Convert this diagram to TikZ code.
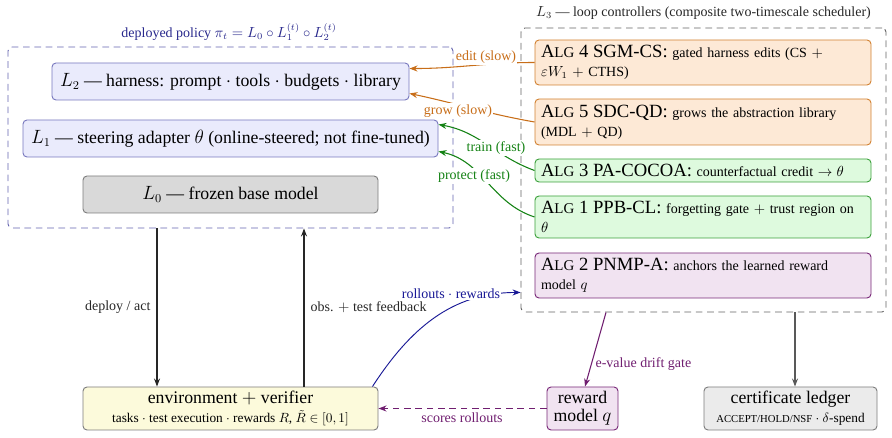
\documentclass[tikz,border=0pt]{standalone}
\usepackage{fontspec}
\setmainfont{Liberation Serif}
\usetikzlibrary{arrows.meta,calc}
\definecolor{lfill}{RGB}{234,235,252}
\definecolor{ldraw}{RGB}{120,120,190}
\definecolor{gfill}{RGB}{217,217,217}
\definecolor{gdraw}{RGB}{125,125,125}
\definecolor{ofill}{RGB}{253,233,214}
\definecolor{odraw}{RGB}{210,130,50}
\definecolor{orng}{RGB}{200,110,25}
\definecolor{grfill}{RGB}{222,250,222}
\definecolor{grdraw}{RGB}{60,160,60}
\definecolor{grn}{RGB}{20,130,20}
\definecolor{pfill}{RGB}{241,227,241}
\definecolor{pdraw}{RGB}{120,40,120}
\definecolor{prp}{RGB}{112,30,112}
\definecolor{nvy}{RGB}{25,25,150}
\definecolor{ttlc}{RGB}{40,40,140}
\definecolor{yfill}{RGB}{252,250,219}
\definecolor{lgfill}{RGB}{235,235,235}
\definecolor{dashblue}{RGB}{100,100,175}
\definecolor{dashgray}{RGB}{100,100,100}
\newcommand\myBig{\fontsize{13.3}{13.6}\selectfont}
\newcommand\myLbl{\fontsize{10.5}{12}\selectfont}
\newcommand\myDesc{\fontsize{10}{14.2}\selectfont}
\newcommand\myAlgT{\fontsize{14}{14.25}\selectfont}
\newcommand\myAlgD{\fontsize{10.5}{14.25}\selectfont}
\newcommand\myAlg{A{\fontsize{11.2}{14.25}\selectfont LG}}
\begin{document}
\begin{tikzpicture}[x=0.75pt,y=0.75pt,>={Stealth[length=6pt,width=4.5pt]},
  cont/.style={draw, dash pattern=on 5pt off 3.5pt, line width=0.7pt, rounded corners=3pt, inner sep=0pt},
  box/.style={draw, rounded corners=3pt, line width=0.7pt, inner sep=0pt},
  lay/.style={box, fill=lfill, draw=ldraw, font=\myBig, minimum height=27.75pt},
  alg/.style={box, minimum width=252pt, text width=243pt, inner xsep=4.5pt, align=left, font=\myAlgD},
  orangealg/.style={alg, fill=ofill, draw=odraw},
  greenalg/.style={alg, fill=grfill, draw=grdraw},
  purplealg/.style={alg, fill=pfill, draw=pdraw},
  bot/.style={box, minimum height=32.25pt, align=center, font=\myDesc},
  lbl/.style={font=\myLbl, inner sep=1pt},
  wlbl/.style={lbl, fill=white},
  arr/.style={->, line width=0.8pt}
]
\useasboundingbox (0,0) rectangle (892,438);
% containers
\node[cont, draw=dashblue, minimum width=333.75pt, minimum height=135.75pt] (deployed) at (230.5,300.5) {};
\node[cont, draw=dashgray, minimum width=273.75pt, minimum height=213pt] (L3) at (703.5,268) {};
\node[lbl, text=ttlc] (tdep) at (229,406) {deployed policy $\pi_t = L_0\circ L_1^{(t)}\circ L_2^{(t)}$};
\node[lbl, text=black!85] (tL3) at (703.5,425) {$L_3$ --- loop controllers (composite two-timescale scheduler)};
% layers
\node[lay, minimum width=267.75pt] (L2) at (230.5,356.5) {$L_2$ --- harness: prompt $\cdot$ tools $\cdot$ budgets $\cdot$ library};
\node[lay, minimum width=311.25pt] (L1) at (230.5,299.5) {$L_1$ --- steering adapter $\theta$ (online-steered; not fine-tuned)};
\node[lay, fill=gfill, draw=gdraw, minimum width=221.25pt] (L0) at (230.5,243.5) {$L_0$ --- frozen base model};
% algorithms
\node[orangealg, minimum height=33.75pt] (A4) at (703,375.5) {{\myAlgT\myAlg{} 4 SGM-CS:} gated harness edits (CS $+$\\$\varepsilon W_1$ $+$ CTHS)};
\node[orangealg, minimum height=34.5pt] (A5) at (703,316) {{\myAlgT\myAlg{} 5 SDC-QD:} grows the abstraction library\\(MDL $+$ QD)};
\node[greenalg, minimum height=17.25pt] (A3) at (703,267.5) {{\myAlgT\myAlg{} 3 PA-COCOA:} counterfactual credit $\rightarrow\theta$};
\node[greenalg, minimum height=31.5pt] (A1) at (703,221) {{\myAlgT\myAlg{} 1 PPB-CL:} forgetting gate $+$ trust region on\\$\theta$};
\node[purplealg, minimum height=33.75pt] (A2) at (703,162.5) {{\myAlgT\myAlg{} 2 PNMP-A:} anchors the learned reward\\model $q$};
% bottom nodes
\node[bot, fill=yfill, draw=gdraw, minimum width=221.25pt] (env) at (230.5,29.5) {{\myBig environment $+$ verifier}\\tasks $\cdot$ test execution $\cdot$ rewards $R$, $\tilde R\in[0,1]$};
\node[bot, fill=pfill, draw=pdraw, minimum width=53.25pt, font=\myBig] (reward) at (582.5,29.5) {reward\\model $q$};
\node[bot, fill=lgfill, draw=gdraw, minimum width=129.75pt] (ledger) at (790.5,29.5) {{\myBig certificate ledger}\\{\fontsize{8}{12}\selectfont ACCEPT/HOLD/NSF} $\cdot$ $\delta$-spend};
% connectors
\draw[arr, black!85] ($(deployed.south)+(-73.5,0)$) -- ($(env.north)+(-73.5,0)$);
\draw[arr, black!85] ($(env.north)+(73.5,0)$) -- ($(deployed.south)+(73.5,0)$);
\draw[arr, nvy, line width=0.7pt] ($(env.north east)+(-6,0)$) to[out=57,in=180] ($(L3.south west)+(0,20)$);
\draw[arr, prp, dash pattern=on 5pt off 3.5pt] (reward.west) -- (env.east);
\draw[arr, prp] ($(L3.south)+(-97.5,0)$) -- ($(reward.north)+(2.5,0)$);
\draw[arr, black!65] ($(L3.south)+(91.5,0)$) -- ($(ledger.north)+(4.5,0)$);
\draw[arr, orng] (A4.west) to[out=180,in=0] ($(L2.north east)+(0,-6)$);
\draw[arr, orng] (A5.west) to[out=170,in=-12] ($(L2.south east)+(0,7)$);
\draw[arr, grn] (A3.west) to[out=160,in=-10] ($(L1.north east)+(0,-5)$);
\draw[arr, grn] (A1.west) to[out=162,in=-12] ($(L1.south east)+(0,6)$);
% labels
\node[lbl, text=black!85, anchor=east] (ldep) at (152,131) {deploy / act};
\node[lbl, text=black!85, anchor=west] (lobs) at (309,131) {obs. $+$ test feedback};
\node[wlbl, text=nvy] (lroll) at (451,144) {rollouts $\cdot$ rewards};
\node[lbl, text=prp] (lscore) at (462,20) {scores rollouts};
\node[lbl, text=prp, anchor=west] (lev) at (594,74) {e-value drift gate};
\node[wlbl, text=orng] (ledit) at (486,381) {edit (slow)};
\node[wlbl, text=orng] (lgrow) at (458,327) {grow (slow)};
\node[wlbl, text=grn] (ltrain) at (496,290) {train (fast)};
\node[wlbl, text=grn] (lprot) at (474,262) {protect (fast)};
\end{tikzpicture}
\end{document}
